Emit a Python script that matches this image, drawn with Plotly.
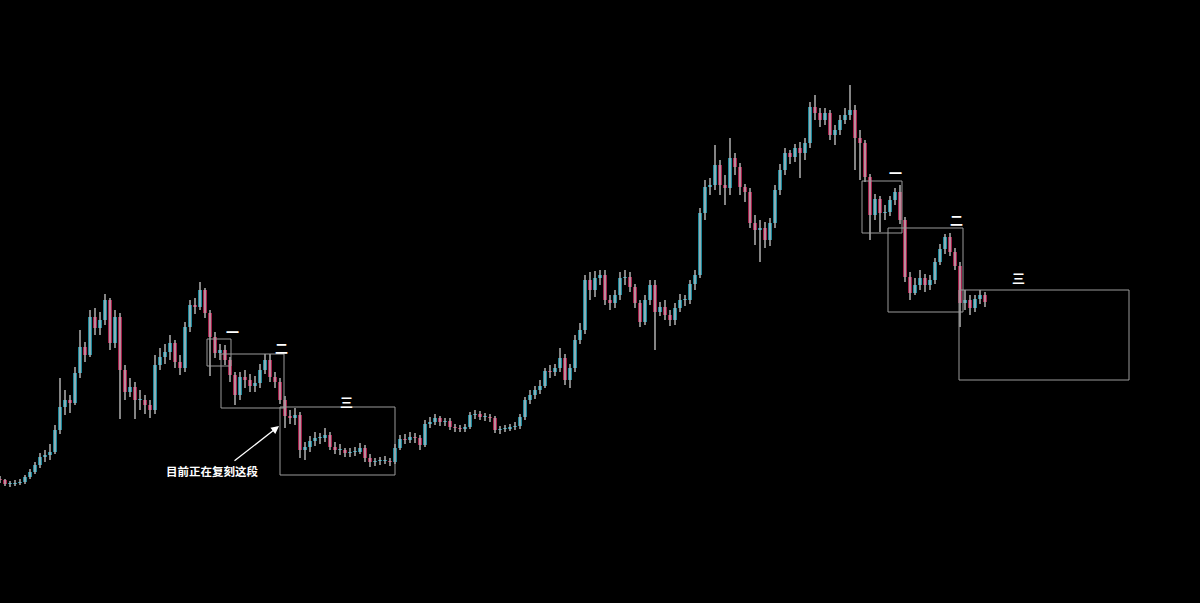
import plotly.graph_objects as go

# candle index (one candle per period)
idx = list(range(198))

opens = [121,120,116,116,117,118,123,128,135,143,
 145,148,170,193,200,197,227,253,245,283,
 272,280,300,257,283,230,208,213,200,200,
 195,190,235,243,248,257,238,232,273,295,
 293,310,287,263,247,250,240,225,205,223,
 220,214,217,230,240,223,218,200,184,182,
 185,150,153,159,162,162,165,153,150,150,
 147,148,148,152,142,138,139,139,139,138,
 152,161,160,163,162,155,176,178,182,178,
 179,173,172,171,173,185,186,183,183,182,
 170,171,171,173,174,183,200,205,210,214,
 229,228,232,242,220,232,260,270,320,310,
 322,325,300,297,305,322,323,313,297,278,
 300,315,288,293,285,280,292,300,300,316,
 325,387,413,415,435,415,412,442,433,413,
 408,377,370,372,360,377,410,430,447,443,
 452,447,457,493,487,480,487,465,470,480,
 485,490,462,457,423,385,401,387,388,400,
 408,380,323,307,315,322,315,320,338,351,
 363,348,334,297,300,292,301,305]

closes = [120,116,116,117,118,123,128,135,143,145,
 148,170,193,200,197,227,253,245,283,272,
 280,300,257,283,230,208,213,200,200,195,
 190,235,243,248,257,238,232,273,295,293,
 310,287,263,247,250,240,225,205,223,220,
 214,217,230,240,223,218,200,184,182,185,
 150,153,159,162,162,165,153,150,150,147,
 148,148,152,142,138,139,139,139,138,152,
 161,160,163,162,155,176,178,182,178,179,
 173,172,171,173,185,186,183,183,182,170,
 171,171,173,174,183,200,205,210,214,229,
 228,232,242,220,232,260,270,320,310,322,
 325,300,297,305,322,323,313,297,278,300,
 315,288,293,285,280,292,300,300,316,325,
 387,413,415,435,415,412,442,433,413,408,
 377,370,372,360,377,410,430,447,443,452,
 447,457,493,487,480,487,465,470,480,485,
 490,462,457,423,385,401,387,388,400,408,
 380,323,307,315,322,315,320,338,351,363,
 348,334,297,300,292,301,305,298]

highs = [124,121,119,120,121,125,131,138,147,150,
 156,175,222,210,205,233,270,258,290,292,
 288,306,302,290,287,235,222,218,210,205,
 200,245,252,256,265,260,245,278,300,302,
 318,312,290,268,256,255,243,228,228,230,
 226,224,236,246,246,228,222,204,190,192,
 188,158,164,168,167,172,168,158,156,152,
 152,153,157,155,146,142,143,144,142,156,
 165,166,168,167,165,180,183,186,184,182,
 182,176,175,176,188,190,189,187,186,184,
 174,175,176,178,186,203,210,214,220,232,
 235,236,252,246,236,265,277,325,328,329,
 330,330,305,310,328,330,328,316,300,305,
 320,320,298,300,290,297,306,305,320,330,
 392,420,422,455,440,425,462,447,437,416,
 412,385,380,378,382,415,436,452,450,456,
 458,462,498,505,492,492,490,475,485,492,
 515,495,470,460,426,406,404,395,404,412,
 415,383,328,322,330,326,325,342,356,366,
 367,352,338,310,305,305,310,308]

lows = [117,114,113,114,115,116,121,126,132,138,
 140,146,166,185,187,195,222,238,243,265,
 265,275,250,252,181,200,203,181,190,186,
 182,186,230,236,240,232,225,228,268,286,
 290,282,224,242,240,235,218,195,200,212,
 208,208,212,226,218,212,196,172,176,175,
 142,140,148,154,156,158,150,146,145,143,
 143,144,146,138,133,134,135,136,134,136,
 150,156,157,157,150,153,172,175,174,174,
 170,168,168,168,171,181,180,179,178,167,
 166,168,169,170,171,180,196,201,206,212,
 222,224,228,215,212,228,256,266,300,303,
 315,295,290,292,300,315,308,292,273,275,
 295,250,284,280,274,275,288,294,296,310,
 322,380,405,410,405,395,405,425,405,398,
 372,355,338,352,354,372,405,425,436,438,
 422,440,452,480,473,475,460,455,465,476,
 480,430,420,418,360,380,368,380,384,395,
 376,318,300,305,310,308,310,316,335,346,
 344,330,273,290,285,288,296,293]

# segment boxes: (label, x0, x1, y_bottom, y_top)
box_labels = ["一", "二", "三", "一", "二", "三"]
box_x0 = [41.4, 44.2, 56.0, 172.4, 177.6, 191.8]
box_x1 = [46.2, 56.8, 79.0, 180.4, 192.6, 225.8]
box_y0 = [234, 192, 125, 367, 288, 220]
box_y1 = [261, 246, 193, 419, 372, 310]
label_x = [46.4, 56.2, 69.2, 179.0, 191.2, 203.6]
label_y = [269, 253, 199, 428, 381, 323]

note_text = "目前正在复刻这段"

UP = "#2ed2f2"
DOWN = "#ff3478"
WICK = "#a6a6a6"

fig = go.Figure()

# candle bodies
body_h = [max(abs(c - o), 1) for o, c in zip(opens, closes)]
body_b = [min(o, c) for o, c in zip(opens, closes)]
body_c = [UP if c >= o else DOWN for o, c in zip(opens, closes)]
fig.add_trace(go.Bar(x=idx, y=body_h, base=body_b, width=0.66,
                     marker=dict(color=body_c, line=dict(width=0)),
                     showlegend=False, hoverinfo="skip"))

# wicks (high-low line through the candle centre)
wx, wy = [], []
for i, h, l in zip(idx, highs, lows):
    wx += [i, i, None]
    wy += [l, h, None]
fig.add_trace(go.Scatter(x=wx, y=wy, mode="lines", line=dict(color=WICK, width=1.6),
                         showlegend=False, hoverinfo="skip"))

for i in range(len(box_labels)):
    fig.add_shape(type="rect", x0=box_x0[i], x1=box_x1[i], y0=box_y0[i], y1=box_y1[i],
                  line=dict(color="#9a9a9a", width=1), fillcolor="rgba(0,0,0,0)", layer="above")
    fig.add_annotation(x=label_x[i], y=label_y[i], text="<b>" + box_labels[i] + "</b>",
                       showarrow=False, font=dict(color="white", size=13, family="Noto Sans CJK SC"))

# arrow
fig.add_annotation(x=55.8, y=174, ax=-46, ay=36, text="", showarrow=True,
                   arrowhead=2, arrowsize=1.2, arrowwidth=1.3, arrowcolor="white")
fig.add_annotation(x=42.4, y=129, text="<b>" + note_text + "</b>", showarrow=False,
                   font=dict(color="white", size=11.5, family="Noto Sans CJK SC"))

fig.update_layout(
    width=1200, height=603,
    paper_bgcolor="black", plot_bgcolor="black",
    margin=dict(l=0, r=0, t=0, b=0),
    xaxis=dict(range=[0, 240], visible=False, showgrid=False),
    yaxis=dict(range=[-3, 600], visible=False, showgrid=False),
)
fig.write_html("out.html", config={"displayModeBar": False},
               post_script="document.body.style.margin='0';document.body.style.background='black';")
